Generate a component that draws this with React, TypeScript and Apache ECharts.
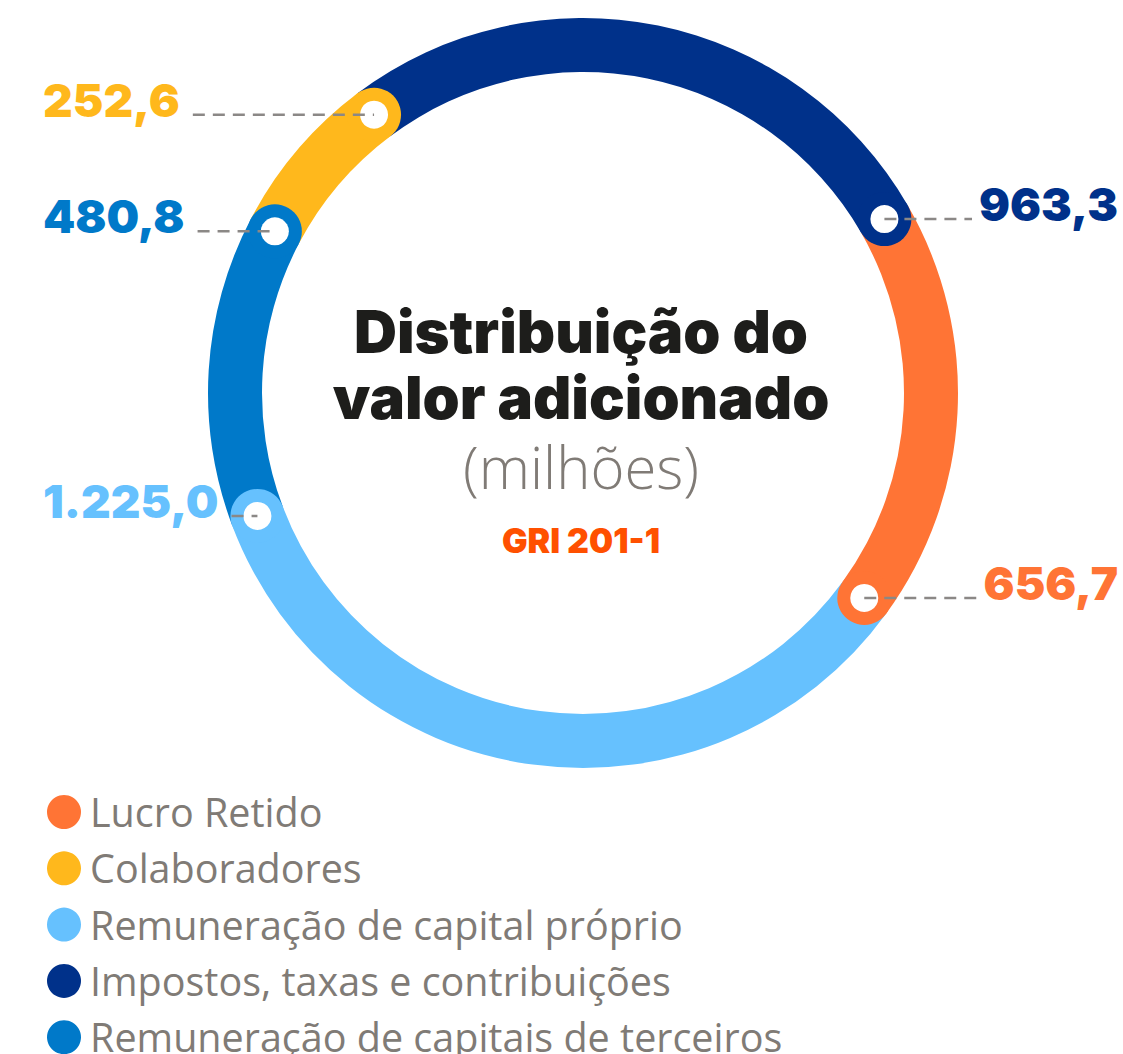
import React, { useEffect, useRef } from 'react';
import * as echarts from 'echarts';

// Data (clockwise order of the ring, starting at the top-left)
const categories = [
  'Impostos, taxas e contribuições',
  'Lucro Retido',
  'Remuneração de capital próprio',
  'Remuneração de capitais de terceiros',
  'Colaboradores',
];
const values = [963.3, 656.7, 1225.0, 480.8, 252.6];
const colors = ['#00318a', '#ff7435', '#66c1fe', '#0079c9', '#ffb81c'];
const legendOrder = [
  'Lucro Retido',
  'Colaboradores',
  'Remuneração de capital próprio',
  'Impostos, taxas e contribuições',
  'Remuneração de capitais de terceiros',
];
const titleLines = ['Distribuição do', 'valor adicionado'];
const unitText = '(milhões)';
const griText = 'GRI 201-1';

function fmtBR(v: number): string {
  const [i, d] = v.toFixed(1).split('.');
  return i.replace(/\B(?=(\d{3})+(?!\d))/g, '.') + ',' + d;
}

const W = 1123;
const H = 1054;
const CX = 583;
const CY = 393;
const R0 = 321;
const R1 = 375;
const START = 126.9;
const NUM_FONT = 46;

let measureCtx: CanvasRenderingContext2D | null = null;
function measure(text: string, font: string): number {
  if (!measureCtx) measureCtx = document.createElement('canvas').getContext('2d');
  if (!measureCtx) return text.length * 28;
  measureCtx.font = font;
  return measureCtx.measureText(text).width;
}

export default function App() {
  const ref = useRef<HTMLDivElement>(null);
  useEffect(() => {
    if (!ref.current) return;
    const chart = echarts.init(ref.current, undefined, { renderer: 'svg' });
    const total = values.reduce((a, b) => a + b, 0);
    const ends: number[] = [];
    let acc = 0;
    values.forEach((v) => {
      acc += v;
      ends.push(acc);
    });

    const titleStyle = {
      fontFamily: 'Inter',
      fontWeight: 900,
      fontSize: 59.5,
      fill: '#1d1d1b',
      align: 'center',
      verticalAlign: 'middle',
    };

    const option: any = {
      animation: false,
      polar: { center: [CX, CY], radius: [R0, R1] },
      angleAxis: {
        type: 'value',
        min: 0,
        max: total,
        startAngle: START,
        clockwise: true,
        show: false,
      },
      radiusAxis: { type: 'category', data: ['anel'], show: false },
      legend: {
        data: legendOrder,
        orient: 'vertical',
        left: 47,
        top: 792,
        height: 320,
        padding: 0,
        itemWidth: 42,
        itemHeight: 34,
        itemGap: 16.3,
        icon: 'circle',
        selectedMode: false,
        textStyle: {
          fontFamily: '"Open Sans"',
          fontSize: 39.5,
          lineHeight: 38,
          color: '#807b76',
        },
      },
      graphic: [
        {
          type: 'text',
          x: 581,
          y: 331,
          style: { ...titleStyle, text: titleLines[0] },
        },
        {
          type: 'text',
          x: 581,
          y: 397,
          style: { ...titleStyle, text: titleLines[1] },
        },
        {
          type: 'text',
          x: 581,
          y: 466,
          style: {
            text: unitText,
            fontFamily: '"Open Sans"',
            fontWeight: 300,
            fontSize: 58,
            fill: '#807b76',
            align: 'center',
            verticalAlign: 'middle',
          },
        },
        {
          type: 'text',
          x: 581,
          y: 540,
          style: {
            text: griText,
            fontFamily: 'Inter',
            fontWeight: 900,
            fontSize: 34,
            fill: '#ff5000',
            align: 'center',
            verticalAlign: 'middle',
          },
        },
      ],
      series: [
        {
          type: 'pie',
          center: [CX, CY],
          radius: [R0, R1],
          startAngle: START,
          clockwise: true,
          silent: true,
          label: { show: false },
          labelLine: { show: false },
          itemStyle: { borderWidth: 0 },
          data: categories.map((n, i) => ({
            name: n,
            value: values[i],
            itemStyle: { color: colors[i] },
          })),
        },
        {
          type: 'custom',
          coordinateSystem: 'polar',
          clip: false,
          silent: true,
          z: 5,
          data: ends.map((e, i) => [0, e, i]),
          renderItem: (params: any, api: any) => {
            const i = api.value(2);
            const p = api.coord([api.value(0), api.value(1)]);
            const left = p[0] < CX;
            const text = fmtBR(values[i]);
            const font = `900 ${NUM_FONT}px Inter`;
            const tw = measure(text, font);
            const textX = left ? 43 : 1118;
            const lineEnd = left ? textX + tw + 13 : textX - tw - 7;
            const ty = p[1] - 15;
            return {
              type: 'group',
              children: [
                {
                  type: 'circle',
                  shape: { cx: p[0], cy: p[1], r: 27 },
                  style: { fill: colors[i] },
                },
                {
                  type: 'circle',
                  shape: { cx: p[0], cy: p[1], r: 14 },
                  style: { fill: '#ffffff' },
                },
                {
                  type: 'line',
                  shape: left
                    ? { x1: lineEnd, y1: p[1], x2: p[0], y2: p[1] }
                    : { x1: p[0], y1: p[1], x2: lineEnd, y2: p[1] },
                  style: {
                    stroke: '#8b8886',
                    lineWidth: 2.5,
                    lineDash: [12, 8],
                    fill: null,
                  },
                },
                {
                  type: 'text',
                  x: textX,
                  y: ty,
                  style: {
                    text,
                    fill: colors[i],
                    fontFamily: 'Inter',
                    fontWeight: 900,
                    fontSize: NUM_FONT,
                    align: left ? 'left' : 'right',
                    verticalAlign: 'middle',
                  },
                },
              ],
            };
          },
        },
      ],
    };
    chart.setOption(option);
    return () => chart.dispose();
  }, []);

  return (
    <div
      ref={ref}
      style={{ position: 'absolute', left: 0, top: 0, width: W, height: H, background: '#ffffff' }}
    />
  );
}
